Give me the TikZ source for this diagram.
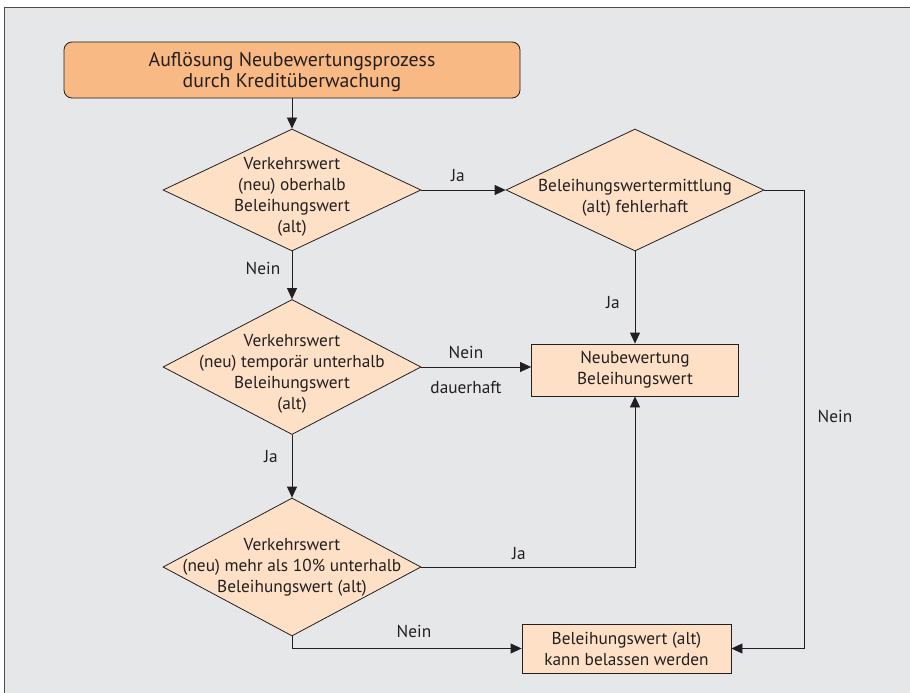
\documentclass[tikz,border=0pt]{standalone}
\usepackage{fontspec}
\setmainfont{PT Sans}
\usetikzlibrary{shapes.geometric,arrows.meta}
\definecolor{panel}{HTML}{E6E7E9}
\definecolor{startorange}{HTML}{F9B984}
\definecolor{peach}{HTML}{FEE0C6}
\definecolor{ink}{HTML}{231F20}
\tikzset{
  startbox/.style={draw=ink, fill=startorange, rounded corners=8pt, minimum width=456pt, minimum height=56pt, line width=0.8pt, align=center, text=ink, font=\fontsize{19.8pt}{21pt}\selectfont},
  decision/.style={draw=ink, fill=peach, diamond, minimum width=258pt, inner sep=0pt, line width=0.8pt},
  decisiontext/.style={align=center, inner sep=0pt, text=ink, yshift=-7pt},
  actionbox/.style={draw=ink, fill=peach, line width=0.8pt, align=center, text=ink},
  flow/.style={draw=ink, line width=0.8pt, -{Triangle[length=11pt,width=10pt]}},
  lbl/.style={text=ink}
}
\begin{document}
\begin{tikzpicture}[x=1pt, y=-1pt, font=\fontsize{17.3pt}{21pt}\selectfont]
\useasboundingbox (0,0) rectangle (910,693);
% panel
\fill[panel] (4,8) rectangle (910,693);
\draw[ink!80, line width=1pt] (910,8) -- (4,8) -- (4,693);
% boxes and decisions
\node[startbox, text depth=-2pt] (start) at (292,70) {Auflösung Neubewertungsprozess\\durch Kreditüberwachung};
\node[decision, minimum height=122pt, label={[decisiontext]center:{Verkehrswert\\(neu) oberhalb\\Beleihungswert\\(alt)}}] (oberhalb) at (292,190) {};
\node[decision, minimum height=122pt, label={[decisiontext, yshift=-1pt]center:{Beleihungswertermittlung\\(alt) fehlerhaft}}] (fehlerhaft) at (635,190) {};
\node[decision, minimum height=135pt, label={[decisiontext]center:{Verkehrswert\\(neu) temporär unterhalb\\Beleihungswert\\(alt)}}] (temporaer) at (292,367) {};
\node[decision, minimum height=138pt, label={[decisiontext, yshift=7pt]center:{Verkehrswert\\(neu) mehr als 10\% unterhalb\\Beleihungswert (alt)}}] (zehnProzent) at (292,567) {};
\node[actionbox, minimum width=207pt, minimum height=52pt] (neubewertung) at (635,370) {Neubewertung\\Beleihungswert};
\node[actionbox, minimum width=209pt, minimum height=49pt] (belassen) at (626.5,648.5) {Beleihungswert (alt)\\kann belassen werden};
\coordinate (rechtsOben) at (804,190);
% connectors
\draw[flow] (start) -- (oberhalb);
\draw[flow] (oberhalb.east) -- (fehlerhaft.west);
\draw[flow] (oberhalb.south) -- (temporaer.north);
\draw[flow] (fehlerhaft.south) -- (neubewertung.north);
\draw[flow] (temporaer.east) -- (temporaer.east -| neubewertung.west);
\draw[flow] (temporaer.south) -- (zehnProzent.north);
\draw[flow] (zehnProzent.east) -| (neubewertung.south);
\draw[flow] (zehnProzent.south) |- (belassen.west);
\draw[flow] (fehlerhaft.east) -- (rechtsOben) |- (belassen.east);
% labels
\node[lbl] (jaOben) at (458,176) {Ja};
\node[lbl] (neinOben) at (263,268) {Nein};
\node[lbl] (jaFehler) at (613,303) {Ja};
\node[lbl] (neinTemp) at (466,352) {Nein};
\node[lbl] (dauerhaft) at (466,387) {dauerhaft};
\node[lbl] (jaTemp) at (271,457) {Ja};
\node[lbl] (jaZehn) at (519,554) {Ja};
\node[lbl] (neinZehn) at (414,631) {Nein};
\node[lbl] (neinRechts) at (835,416) {Nein};
\end{tikzpicture}
\end{document}
